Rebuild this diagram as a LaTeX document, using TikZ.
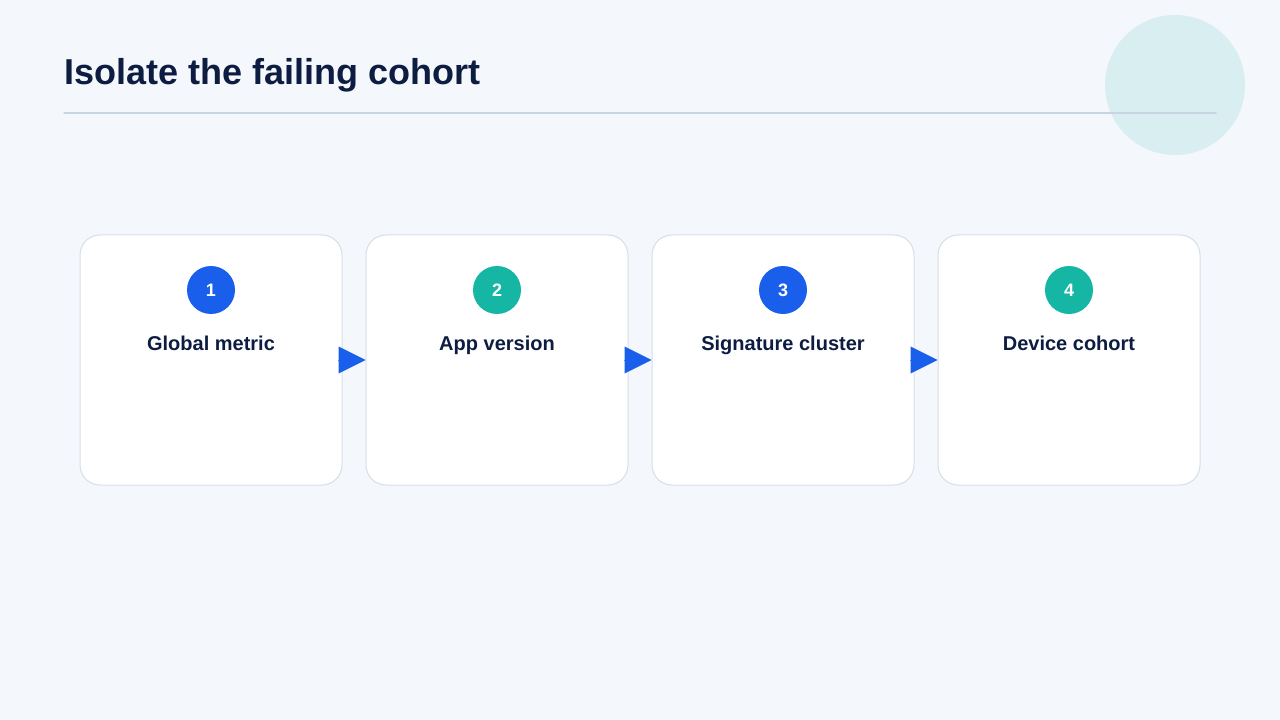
\documentclass[tikz,border=0pt]{standalone}
\usepackage{fontspec}
\setmainfont{Liberation Sans}
\usetikzlibrary{arrows.meta}
\definecolor{bgpage}{HTML}{F4F7FB}
\definecolor{inkdark}{HTML}{0D1D42}
\definecolor{rulegray}{HTML}{C9D4E3}
\definecolor{cardedge}{HTML}{D6DEE9}
\definecolor{stepblue}{HTML}{1A5EEC}
\definecolor{stepteal}{HTML}{15B6A3}
\definecolor{blobteal}{HTML}{D9EEF0}
\tikzset{
  card/.style={draw=cardedge,line width=0.75pt,fill=white,rounded corners=15pt,
    minimum width=196.5pt,minimum height=187.5pt,inner sep=0pt},
  badge/.style={circle,minimum size=36pt,inner sep=0pt,text=white,
    font=\fontsize{13.5}{16}\selectfont\bfseries},
  cardlabel/.style={anchor=base,text=inkdark,font=\fontsize{15}{18}\selectfont\bfseries},
  flow/.style={draw=stepblue,line width=0.1pt,-{Triangle[length=20.25pt,width=20.25pt,line width=0pt]}}
}
\begin{document}
\begin{tikzpicture}[x=0.75pt,y=-0.75pt,line join=round,line cap=round]
  \fill[bgpage] (0,0) rectangle (1280,720);
  \useasboundingbox (0,0) rectangle (1280,720);
  % decoration and header
  \fill[blobteal] (1175,85) circle (70);
  \node[anchor=base west,text=inkdark,font=\fontsize{27}{32}\selectfont\bfseries] (title) at (60,85) {Isolate the failing cohort};
  \coordinate (ruleL) at (64,113);
  \coordinate (ruleR) at (1216,113);
  \draw[rulegray,line width=1.1pt] (ruleL) -- (ruleR);
  % steps
  \foreach \i/\txt/\col in {1/Global metric/stepblue,2/App version/stepteal,3/Signature cluster/stepblue,4/Device cohort/stepteal}{
    \node[card] (c\i) at ({211+286*(\i-1)},360) {};
    \node[badge,fill=\col] (n\i) at ({211+286*(\i-1)},290) {\i};
    \node[cardlabel] (l\i) at ({211+286*(\i-1)},350) {\txt};
  }
  \foreach \a/\b in {1/2,2/3,3/4}{
    \draw[flow] ([xshift=-2.25pt]c\a.east) -- (c\b.west);
  }
\end{tikzpicture}
\end{document}
